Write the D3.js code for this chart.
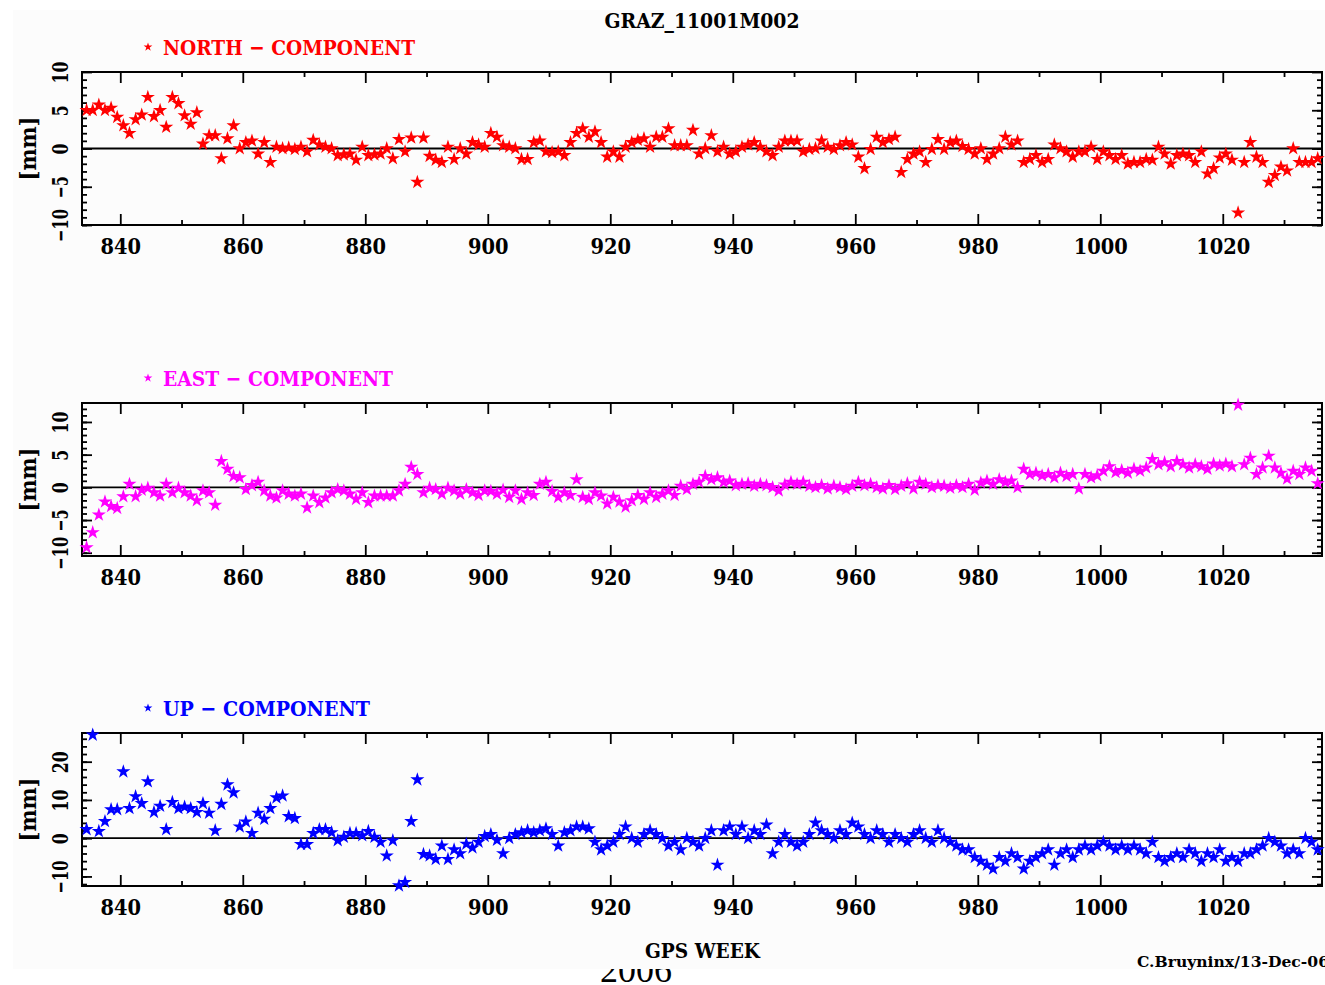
<!DOCTYPE html>
<html>
<head>
<meta charset="utf-8">
<script src="https://cdn.jsdelivr.net/npm/d3@7"></script>
<style>
  body { margin: 0; background: #fff; }
  svg { display: block; }
  text { font-family: "DejaVu Serif", serif; font-weight: bold; }
</style>
</head>
<body>
<div id="chart-area"></div>
<script>
// GPS weeks 834 .. 1035, one solution per week
const weeks = d3.range(834, 1036)

const northValues = [
  5.0, 5.0, 5.7, 5.0, 5.3, 4.1, 3.0, 2.0, 3.8, 4.4,
  6.7, 4.2, 5.0, 2.8, 6.7, 5.9, 4.3, 3.2, 4.7, 0.6,
  1.7, 1.7, -1.3, 1.3, 3.0, 0.0, 0.8, 1.0, -0.7, 0.8,
  -1.8, 0.2, 0.0, 0.1, -0.1, 0.2, -0.4, 1.1, 0.5, 0.2,
  0.0, -0.9, -0.8, -0.7, -1.5, 0.2, -0.9, -0.8, -0.7, 0.0,
  -1.3, 1.2, -0.4, 1.4, -4.4, 1.4, -1.0, -1.5, -1.8, 0.2,
  -1.4, 0.0, -0.7, 0.8, 0.5, 0.2, 2.0, 1.5, 0.4, 0.2,
  0.0, -1.4, -1.4, 0.8, 1.0, -0.4, -0.5, -0.4, -0.9, 0.8,
  2.0, 2.6, 1.5, 2.2, 0.8, -1.1, -0.4, -1.1, 0.2, 0.8,
  1.1, 1.3, 0.2, 1.5, 1.5, 2.6, 0.4, 0.4, 0.4, 2.4,
  -0.7, 0.0, 1.7, -0.4, 0.2, -0.7, -0.4, 0.2, 0.5, 0.8,
  0.2, -0.4, -0.9, 0.2, 1.0, 1.0, 1.0, -0.4, -0.1, 0.0,
  1.0, 0.2, -0.1, 0.4, 0.8, 0.5, -1.1, -2.6, -0.1, 1.5,
  0.8, 1.2, 1.5, -3.1, -1.4, -0.7, -0.4, -1.8, -0.1, 1.2,
  -0.1, 0.8, 1.0, 0.3, -0.1, -0.7, 0.0, -1.4, -0.7, 0.0,
  1.5, 0.5, 1.0, -1.8, -1.4, -0.9, -1.8, -1.4, 0.5, 0.0,
  -0.4, -1.1, -0.4, -0.4, 0.2, -1.4, -0.4, -0.9, -1.4, -0.9,
  -2.0, -1.8, -1.8, -1.4, -1.5, 0.2, -0.7, -2.0, -0.9, -0.7,
  -0.9, -1.8, -0.4, -3.3, -2.6, -1.2, -0.7, -1.5, -8.4, -1.8,
  0.8, -1.1, -1.8, -4.4, -3.5, -2.4, -2.9, 0.0, -1.8, -1.8,
  -1.8, -1.3
]

const eastValues = [
  -9.2, -6.9, -4.2, -2.2, -2.9, -3.2, -1.4, 0.5, -1.4, -0.4,
  -0.1, -0.8, -1.3, 0.5, -0.8, -0.1, -0.8, -1.3, -2.0, -0.5,
  -0.8, -2.7, 4.0, 2.8, 1.7, 1.5, -0.3, 0.3, 0.8, -0.5,
  -1.3, -1.6, -0.5, -1.0, -1.3, -1.0, -3.1, -1.3, -2.3, -1.6,
  -0.8, -0.3, -0.5, -1.0, -1.8, -0.8, -2.3, -1.3, -1.3, -1.3,
  -1.3, -0.5, 0.5, 3.1, 2.0, -0.8, -0.1, -0.3, -1.0, -0.1,
  -0.5, -1.0, -0.3, -0.8, -1.2, -0.5, -0.6, -1.0, -0.4, -1.5,
  -0.5, -1.8, -0.8, -1.2, 0.5, 0.8, -0.6, -1.5, -0.8, -1.2,
  1.2, -1.5, -1.8, -0.8, -1.3, -2.5, -1.5, -2.2, -3.0, -2.0,
  -1.2, -1.8, -0.8, -1.5, -1.0, -0.5, -1.2, 0.2, -0.3, 0.5,
  0.8, 1.7, 1.2, 1.5, 0.8, 1.0, 0.3, 0.5, 0.6, 0.2,
  0.5, 0.3, 0.0, -0.5, 0.4, 0.8, 0.5, 0.8, 0.2, 0.0,
  0.3, -0.2, 0.2, 0.0, -0.3, 0.2, 0.8, 0.3, 0.5, 0.0,
  -0.2, 0.3, -0.3, 0.2, 0.6, -0.2, 0.8, 0.5, 0.0, 0.3,
  0.2, -0.1, 0.3, 0.0, 0.5, -0.4, 0.7, 1.0, 0.5, 1.2,
  0.8, 1.0, 0.0, 2.8, 2.0, 2.2, 1.8, 2.0, 1.5, 2.2,
  1.7, 2.0, -0.2, 2.0, 1.5, 1.8, 2.5, 3.2, 2.3, 2.6,
  2.2, 2.8, 2.5, 3.0, 4.3, 3.5, 3.8, 3.2, 4.0, 3.5,
  3.0, 3.5, 3.2, 2.8, 3.6, 3.3, 3.6, 3.2, 12.6, 3.5,
  4.5, 2.0, 3.0, 4.8, 3.0, 2.2, 1.3, 2.5, 2.0, 3.0,
  2.5, 0.6
]

const upValues = [
  2.3, 27.0, 1.8, 4.4, 7.5, 7.5, 17.4, 7.8, 10.9, 9.1,
  14.8, 6.8, 8.4, 2.3, 9.4, 7.8, 8.2, 7.8, 6.8, 9.1,
  6.6, 2.0, 8.9, 14.0, 11.9, 3.0, 4.3, 1.3, 6.6, 5.0,
  7.8, 10.6, 11.1, 5.7, 5.2, -1.6, -1.6, 1.3, 2.3, 2.3,
  1.5, -0.6, 0.3, 1.3, 1.3, 0.7, 1.8, 0.3, -1.0, -4.6,
  -0.6, -12.4, -11.5, 4.4, 15.3, -4.2, -4.6, -5.5, -2.0, -5.5,
  -3.0, -4.0, -1.5, -2.5, -1.0, 0.5, 1.0, -0.5, -4.0, 0.0,
  1.0, 1.5, 2.0, 1.5, 2.0, 2.5, 1.0, -2.0, 1.5, 2.0,
  3.0, 3.0, 2.5, -1.0, -3.0, -2.0, -1.0, 1.0, 3.0, 0.0,
  -1.0, 1.0, 2.0, 1.0, 0.0, -2.0, -1.0, -3.0, 0.0, -1.0,
  -2.0, 0.0, 2.0, -7.0, 2.0, 3.0, 1.0, 3.0, 0.0, 2.0,
  1.0, 3.5, -4.0, -1.0, 1.0, -1.0, -2.0, -1.0, 1.0, 4.0,
  2.0, 1.0, 0.0, 2.0, 1.0, 4.0, 3.0, 1.0, 0.0, 2.0,
  1.0, -1.0, 1.0, 0.0, -1.0, 1.0, 2.0, 0.0, -1.0, 2.0,
  0.0, -1.0, -2.0, -3.0, -3.0, -5.0, -6.0, -7.0, -8.0, -5.0,
  -6.0, -4.0, -5.0, -8.0, -6.0, -5.0, -4.0, -3.0, -7.0, -4.0,
  -3.0, -5.0, -3.0, -2.0, -3.0, -2.0, -1.0, -2.0, -3.0, -2.0,
  -3.0, -2.0, -3.0, -4.0, -1.0, -5.0, -6.0, -5.0, -4.0, -5.0,
  -3.0, -4.0, -6.0, -4.0, -5.0, -3.0, -6.0, -5.0, -6.0, -4.0,
  -4.0, -3.0, -2.0, 0.0, -1.0, -2.0, -4.0, -3.0, -4.0, 0.0,
  -1.0, -3.0
]

const xTicks = [840, 860, 880, 900, 920, 940, 960, 980, 1000, 1020]
const xMinorTicks = [850, 870, 890, 910, 930, 950, 970, 990, 1010, 1030]
const northTicks = [-10, -5, 0, 5, 10]
const eastTicks = [-10, -5, 0, 5, 10]
const upTicks = [-10, 0, 10, 20]

const panels = [
  { name: "NORTH", values: northValues, color: "#ff0000", ticks: northTicks,
    domain: [-10, 10], minorStep: 1, top: 72, legendW: 252 },
  { name: "EAST", values: eastValues, color: "#ff00ff", ticks: eastTicks,
    domain: [-10.5, 12.9], minorStep: 1, top: 403, legendW: 230 },
  { name: "UP", values: upValues, color: "#0000ff", ticks: upTicks,
    domain: [-12.5, 27.5], minorStep: 2, top: 733, legendW: 207 }
]

const W = 1325, H = 985
const LEFT = 82, RIGHT = 1322, PH = 153

const svg = d3.select("#chart-area").append("svg")
  .attr("width", W)
  .attr("height", H)

svg.append("rect").attr("width", W).attr("height", H).attr("fill", "#fff")

// year text peeking out below the picture
svg.append("text")
  .attr("x", 636).attr("y", 982)
  .attr("text-anchor", "middle")
  .style("font-family", "'Liberation Serif', serif")
  .style("font-weight", "normal")
  .style("font-size", "36px")
  .text("2006")

svg.append("rect")
  .attr("x", 13).attr("y", 10)
  .attr("width", W - 13).attr("height", 959)
  .attr("fill", "#fcfcfc")

svg.append("text")
  .attr("x", 702).attr("y", 28)
  .attr("text-anchor", "middle")
  .attr("textLength", 195).attr("lengthAdjust", "spacingAndGlyphs")
  .style("font-size", "20px")
  .text("GRAZ_11001M002")

const xScale = d3.scaleLinear()
  .domain([833.75, 1036.2])
  .range([LEFT, RIGHT])

const star = d3.symbol().type(d3.symbolStar)
const fmt = d => d3.format("d")(d).replace("-", "\u2212")

function fitText(sel, perChar) {
  sel.each(function() {
    const t = d3.select(this)
    const n = t.text().length
    t.attr("textLength", n * perChar).attr("lengthAdjust", "spacingAndGlyphs")
  })
}

panels.forEach(p => {
  const yScale = d3.scaleLinear()
    .domain(p.domain)
    .range([p.top + PH, p.top])

  const g = svg.append("g")

  // legend
  g.append("path")
    .attr("d", star.size(24)())
    .attr("transform", `translate(148, ${p.top - 25})`)
    .attr("fill", p.color)
  g.append("text")
    .attr("x", 163).attr("y", p.top - 17)
    .attr("fill", p.color)
    .attr("textLength", p.legendW).attr("lengthAdjust", "spacingAndGlyphs")
    .style("font-size", "21px")
    .text(p.name + " \u2212 COMPONENT")

  // y label
  g.append("text")
    .attr("transform", `translate(36, ${p.top + PH / 2}) rotate(-90)`)
    .attr("text-anchor", "middle")
    .attr("textLength", 64).attr("lengthAdjust", "spacingAndGlyphs")
    .style("font-size", "22px")
    .text("[mm]")

  const minor = d3.range(Math.ceil(p.domain[0] / p.minorStep) * p.minorStep, p.domain[1], p.minorStep)

  // bottom axis
  const bottom = g.append("g")
    .attr("transform", `translate(0, ${p.top + PH})`)
    .call(d3.axisBottom(xScale).tickValues(xTicks).tickSizeInner(-11).tickSizeOuter(0)
      .tickPadding(13).tickFormat(fmt))
  bottom.selectAll("text").style("font-size", "22px").attr("fill", "#000")
  fitText(bottom.selectAll("text"), 13.5)
  g.append("g")
    .attr("transform", `translate(0, ${p.top + PH})`)
    .call(d3.axisBottom(xScale).tickValues(xMinorTicks).tickSizeInner(-5).tickSizeOuter(0).tickFormat(""))

  // top axis
  g.append("g")
    .attr("transform", `translate(0, ${p.top})`)
    .call(d3.axisTop(xScale).tickValues(xTicks).tickSizeInner(-11).tickSizeOuter(0).tickFormat(""))
  g.append("g")
    .attr("transform", `translate(0, ${p.top})`)
    .call(d3.axisTop(xScale).tickValues(xMinorTicks).tickSizeInner(-5).tickSizeOuter(0).tickFormat(""))

  // left axis
  const left = g.append("g")
    .attr("transform", `translate(${LEFT}, 0)`)
    .call(d3.axisLeft(yScale).tickValues(p.ticks).tickSizeInner(-10).tickSizeOuter(0).tickFormat(fmt))
  left.selectAll("text")
    .attr("transform", "rotate(-90)")
    .attr("x", 0).attr("y", -14).attr("dy", 0)
    .attr("text-anchor", "middle")
    .attr("fill", "#000")
    .style("font-size", "22px")
  fitText(left.selectAll("text"), 11)
  g.append("g")
    .attr("transform", `translate(${LEFT}, 0)`)
    .call(d3.axisLeft(yScale).tickValues(minor).tickSizeInner(-5).tickSizeOuter(0).tickFormat(""))

  // right axis
  g.append("g")
    .attr("transform", `translate(${RIGHT}, 0)`)
    .call(d3.axisRight(yScale).tickValues(p.ticks).tickSizeInner(-10).tickSizeOuter(0).tickFormat(""))
  g.append("g")
    .attr("transform", `translate(${RIGHT}, 0)`)
    .call(d3.axisRight(yScale).tickValues(minor).tickSizeInner(-5).tickSizeOuter(0).tickFormat(""))

  g.selectAll(".domain").remove()
  g.selectAll(".tick line").attr("stroke", "#000").attr("stroke-width", 1.8)

  // zero line
  g.append("line")
    .attr("x1", LEFT).attr("x2", RIGHT)
    .attr("y1", yScale(0)).attr("y2", yScale(0))
    .attr("stroke", "#000").attr("stroke-width", 1.8)

  // frame
  g.append("rect")
    .attr("x", LEFT).attr("y", p.top)
    .attr("width", RIGHT - LEFT).attr("height", PH)
    .attr("fill", "none").attr("stroke", "#000").attr("stroke-width", 2)

  // data stars
  g.selectAll(".pt")
    .data(weeks.map((w, i) => ({ week: w, value: p.values[i] })))
    .enter().append("path")
    .attr("class", "pt")
    .attr("d", star.size(62)())
    .attr("transform", d => `translate(${xScale(d.week + 0.5)}, ${yScale(d.value)})`)
    .attr("fill", p.color)
})

svg.append("text")
  .attr("x", 645).attr("y", 958)
  .attr("textLength", 115).attr("lengthAdjust", "spacingAndGlyphs")
  .style("font-size", "20px")
  .text("GPS WEEK")

svg.append("text")
  .attr("x", 1137).attr("y", 967)
  .attr("textLength", 192).attr("lengthAdjust", "spacingAndGlyphs")
  .style("font-size", "14px")
  .text("C.Bruyninx/13-Dec-06")
</script>
</body>
</html>
